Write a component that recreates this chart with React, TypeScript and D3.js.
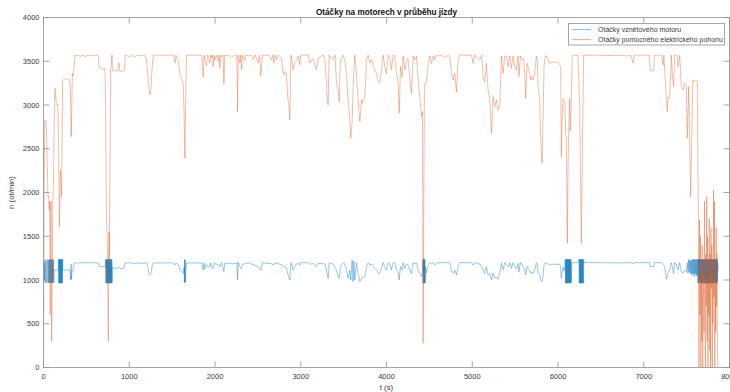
import React from 'react';
import * as d3 from 'd3';

// Time axis (s) and speed axis (ot/min) ticks
const xTicks = [0, 1000, 2000, 3000, 4000, 5000, 6000, 7000, 8000];
const yTicks = [0, 500, 1000, 1500, 2000, 2500, 3000, 3500, 4000];

const titleText = 'Otáčky na motorech v průběhu jízdy';
const xLabel = 't (s)';
const yLabel = 'n (ot/min)';
const seriesNames = ['Otáčky vznětového motoru', 'Otáčky pomocného elektrického pohonu'];

// Diesel engine speed: [t (s), n (ot/min)]
const dieselRpm: [number, number][] = [
  [0, 980], [5, 1230], [10, 1000], [15, 1200], [20, 965], [26, 1230], [32, 1150], [38, 970], [44, 1235],
  [50, 1100], [55, 965], [60, 1230], [64, 970], [68, 1235], [72, 965], [76, 1230], [80, 970], [84, 1235],
  [88, 965], [92, 1232], [96, 968], [100, 1235], [104, 965], [108, 1230], [112, 970], [116, 1235], [120, 968],
  [125, 1114], [135, 1114], [145, 1120], [155, 1110], [165, 1114], [172, 1114],
  [175, 1235], [178, 965], [181, 1235], [184, 962], [187, 1237], [190, 965], [193, 1235], [196, 962],
  [199, 1237], [202, 965], [205, 1235], [208, 962], [211, 1237], [214, 965], [217, 1235], [220, 962],
  [223, 1237], [226, 1114], [240, 1110], [260, 1114], [290, 1114], [305, 1120], [312, 1050], [318, 1000],
  [322, 1180], [326, 1010], [332, 1100], [340, 1114], [350, 1150], [360, 1195], [400, 1195], [450, 1198],
  [500, 1195], [550, 1198], [600, 1195], [640, 1195], [648, 1152], [700, 1152], [718, 1150],
  [722, 1150], [725, 1235], [728, 965], [731, 1237], [734, 962], [737, 1235], [740, 968], [743, 1237],
  [746, 962], [749, 1233], [752, 965], [755, 1237], [758, 962], [761, 1235], [764, 966], [767, 1237],
  [770, 962], [773, 1235], [776, 965], [779, 1237], [782, 963], [785, 1235], [788, 967], [791, 1237],
  [794, 962], [797, 1232], [800, 970], [803, 1152],
  [815, 1140], [830, 1133], [860, 1135], [880, 1150], [900, 1133], [940, 1133], [950, 1195], [1000, 1198],
  [1050, 1190], [1100, 1195], [1150, 1190], [1203, 1195], [1215, 1150], [1228, 1080], [1241, 1057],
  [1255, 1080], [1265, 1150], [1280, 1195], [1513, 1195], [1525, 1180], [1533, 1170], [1545, 1195],
  [1575, 1175], [1591, 1114], [1610, 1100], [1630, 1076], [1640, 1150], [1643, 969], [1646, 1235],
  [1649, 969], [1652, 1230], [1655, 980], [1660, 1100], [1669, 1195], [1844, 1195], [1863, 1114],
  [1872, 1195], [1882, 1130], [1902, 1175], [1921, 1150], [1941, 1160], [1950, 1195], [1960, 1140],
  [1979, 1130], [1990, 1190], [2038, 1175], [2057, 1150], [2077, 1198], [2104, 1095], [2113, 1195],
  [2200, 1185], [2255, 1190], [2263, 1000], [2270, 1205], [2290, 1150], [2310, 1130], [2320, 1180],
  [2348, 1185], [2387, 1198], [2446, 1175], [2504, 1150], [2535, 1114], [2554, 1198], [2660, 1185],
  [2687, 1175], [2700, 1198], [2776, 1175], [2803, 1152], [2834, 1133], [2846, 1076], [2873, 1000],
  [2885, 1198], [2912, 1114], [2931, 1160], [2951, 1183], [2970, 1198], [2989, 1170], [3000, 1198],
  [3087, 1198], [3106, 1183], [3125, 1183], [3145, 1190], [3164, 1170], [3184, 1152], [3203, 1190],
  [3281, 1183], [3300, 1114], [3320, 1019], [3331, 1198], [3378, 1183], [3417, 1114], [3436, 1038],
  [3448, 1019], [3463, 1152], [3494, 1198], [3514, 1183], [3533, 1114], [3553, 1019], [3572, 1114],
  [3584, 1000], [3599, 1230], [3610, 981], [3619, 1215], [3630, 1000], [3650, 1198], [3669, 1076],
  [3689, 981], [3708, 1019], [3728, 1030], [3747, 1038], [3766, 1152], [3786, 1198], [3805, 1170],
  [3825, 1183], [3844, 1152], [3864, 1133], [3883, 1114], [3902, 1076], [3922, 1076], [3941, 1133],
  [3961, 1198], [3980, 1152], [4000, 1114], [4019, 1198], [4038, 1183], [4058, 1114], [4077, 1198],
  [4097, 1198], [4116, 1114], [4136, 1095], [4148, 1000], [4163, 1152], [4182, 1114], [4194, 1198],
  [4214, 1133], [4233, 1183], [4250, 1170], [4272, 1114], [4291, 1076], [4311, 1198], [4330, 1183],
  [4350, 1198], [4369, 1114], [4388, 1076], [4408, 1038], [4419, 1076],
  [4424, 1237], [4427, 962], [4430, 1235], [4433, 965], [4436, 1237], [4439, 962], [4442, 1235],
  [4445, 966], [4448, 1237], [4451, 963], [4455, 1150], [4466, 1076], [4486, 1170], [4505, 1198],
  [4524, 1183], [4544, 1198], [4563, 1170], [4583, 1190], [4602, 1198], [4738, 1198], [4757, 1114],
  [4777, 1076], [4796, 1114], [4816, 1057], [4835, 1152], [4855, 1198], [4991, 1198], [5010, 1170],
  [5029, 1198], [5088, 1183], [5127, 1114], [5146, 1076], [5165, 1152], [5185, 1057], [5204, 1076],
  [5224, 1000], [5243, 1076], [5263, 1019], [5282, 1038], [5301, 1008], [5321, 1076], [5340, 1198],
  [5360, 1114], [5379, 1198], [5418, 1152], [5437, 1198], [5457, 1133], [5476, 1198], [5495, 1152],
  [5514, 1133], [5534, 1190], [5545, 1095], [5561, 1198], [5580, 1183], [5612, 1114], [5623, 1057],
  [5639, 1152], [5650, 1133], [5670, 1114], [5681, 1076], [5689, 1095], [5709, 1076], [5728, 1114],
  [5748, 1198], [5759, 1183], [5767, 1076], [5786, 1057], [5798, 1000], [5814, 981], [5825, 1038],
  [5837, 1170], [5852, 1198], [5884, 1183], [5903, 1170], [5920, 1180], [6020, 1180], [6031, 1152],
  [6039, 1019], [6050, 1114], [6060, 1152], [6070, 1100], [6080, 1150],
  [6085, 1237], [6088, 962], [6091, 1235], [6094, 965], [6097, 1237], [6100, 962], [6103, 1235],
  [6106, 967], [6109, 1237], [6112, 962], [6115, 1235], [6118, 965], [6121, 1237], [6124, 963],
  [6127, 1235], [6130, 966], [6133, 1237], [6136, 962], [6139, 1235], [6142, 965], [6145, 1237],
  [6148, 963], [6151, 1235], [6155, 970], [6160, 1198], [6233, 1198],
  [6245, 1237], [6248, 962], [6251, 1235], [6254, 965], [6257, 1237], [6260, 962], [6263, 1235],
  [6266, 966], [6269, 1237], [6272, 962], [6275, 1235], [6278, 965], [6281, 1237], [6284, 963],
  [6287, 1235], [6290, 967], [6293, 1237], [6296, 962], [6299, 1230], [6305, 1198],
  [6500, 1198], [6700, 1195], [6860, 1198], [6875, 1183], [6890, 1198], [7069, 1198], [7077, 1152],
  [7116, 1152], [7127, 1198], [7205, 1198], [7225, 1183], [7244, 1152], [7255, 1076], [7263, 1008],
  [7275, 1038], [7283, 1076], [7302, 1114], [7322, 1198], [7333, 1152], [7349, 1076], [7360, 1198],
  [7380, 1183], [7399, 1114], [7419, 1198], [7438, 1095], [7458, 1076], [7477, 1114], [7496, 1095],
  [7508, 1198], [7516, 1076], [7524, 1236], [7530, 1095], [7535, 1225], [7541, 1076], [7547, 1220],
  [7553, 1060], [7559, 1236], [7564, 1080], [7569, 1230], [7574, 1050], [7580, 1236], [7585, 1070],
  [7590, 1236], [7595, 1040], [7600, 1236], [7605, 1076], [7610, 1236], [7615, 1050], [7620, 1236],
  [7625, 1060], [7630, 1236],
  [7632, 965], [7635, 1237], [7638, 962], [7641, 1235], [7644, 970], [7647, 1237], [7650, 1000],
  [7653, 1236], [7656, 962], [7659, 1234], [7662, 966], [7665, 1237], [7668, 963], [7671, 1230],
  [7674, 980], [7677, 1237], [7680, 962], [7683, 1235], [7686, 968], [7689, 1237], [7692, 1040],
  [7695, 1236], [7698, 962], [7701, 1235], [7704, 965], [7707, 1237], [7710, 963], [7713, 1233],
  [7716, 970], [7719, 1237], [7722, 962], [7725, 1235], [7728, 1010], [7731, 1237], [7734, 962],
  [7737, 1236], [7740, 966], [7743, 1237], [7746, 963], [7749, 1232], [7752, 968], [7755, 1237],
  [7758, 962], [7761, 1235], [7764, 975], [7767, 1237], [7770, 962], [7773, 1236], [7776, 965],
  [7779, 1237], [7782, 1050], [7785, 1235], [7788, 962], [7791, 1237], [7794, 966], [7797, 1234],
  [7800, 963], [7803, 1237], [7806, 970], [7809, 1235], [7812, 962], [7815, 1237], [7818, 965],
  [7821, 1236], [7824, 990], [7827, 1237], [7830, 962], [7833, 1235], [7836, 967], [7839, 1237],
  [7842, 963], [7845, 1234], [7848, 968], [7851, 1237], [7854, 962], [7857, 1235], [7860, 970],
  [7863, 1200], [7866, 1100],
];

// Auxiliary electric drive speed: [t (s), n (ot/min)]
const electricRpm: [number, number][] = [
  [0, 0], [8, 2100], [15, 2810], [25, 2830], [35, 2700], [45, 2300], [52, 1950], [60, 1960], [66, 1800],
  [72, 1900], [78, 600], [84, 1850], [90, 1900], [95, 295], [102, 1100], [108, 1850], [115, 2067],
  [125, 2800], [134, 3190], [142, 3100], [150, 3020], [160, 3000], [168, 3010], [176, 2500], [185, 1610],
  [192, 2000], [198, 2257], [204, 2150], [210, 1952], [217, 2600], [223, 3280], [235, 3290], [250, 3300],
  [270, 3290], [290, 3300], [305, 3280], [312, 3200], [318, 2900], [324, 2638], [330, 3000], [336, 3360],
  [345, 3330], [352, 3400], [360, 3450], [367, 3570], [380, 3560], [400, 3570], [430, 3555], [460, 3570],
  [490, 3550], [520, 3570], [560, 3560], [600, 3570], [625, 3565], [640, 3560], [648, 3430], [660, 3419],
  [680, 3420], [700, 3400], [712, 3420], [720, 3300], [728, 2500], [735, 1700], [742, 1500], [748, 1200],
  [752, 600], [756, 295], [760, 1000], [764, 1550], [768, 1200], [772, 1800], [778, 2500], [783, 3400],
  [790, 3450], [798, 3570], [804, 3440], [810, 3390], [830, 3390], [850, 3400], [865, 3390], [875, 3460],
  [882, 3480], [890, 3390], [910, 3385], [930, 3390], [945, 3400], [952, 3570], [980, 3560], [1000, 3550],
  [1030, 3570], [1060, 3545], [1090, 3570], [1120, 3560], [1150, 3570], [1190, 3560], [1203, 3500],
  [1215, 3350], [1228, 3200], [1241, 3114], [1255, 3200], [1265, 3400], [1280, 3570], [1400, 3570],
  [1513, 3570], [1525, 3520], [1533, 3480], [1545, 3570], [1560, 3530], [1575, 3500], [1591, 3350],
  [1610, 3300], [1630, 3230], [1640, 2900], [1649, 2390], [1660, 3200], [1669, 3570], [1844, 3570],
  [1863, 3320], [1872, 3570], [1882, 3510], [1902, 3450], [1912, 3570], [1921, 3560], [1941, 3480],
  [1950, 3570], [1960, 3540], [1970, 3570], [1979, 3440], [1990, 3570], [1999, 3510], [2020, 3570],
  [2038, 3500], [2048, 3570], [2057, 3420], [2067, 3570], [2077, 3550], [2095, 3570], [2104, 3240],
  [2113, 3570], [2123, 3560], [2160, 3570], [2193, 3540], [2230, 3570], [2255, 3560], [2263, 2924],
  [2270, 3570], [2279, 3540], [2290, 3480], [2300, 3570], [2310, 3400], [2320, 3570], [2348, 3510],
  [2360, 3570], [2387, 3560], [2420, 3570], [2446, 3520], [2470, 3570], [2504, 3480], [2520, 3570],
  [2535, 3330], [2554, 3570], [2620, 3570], [2660, 3510], [2675, 3570], [2687, 3480], [2700, 3570],
  [2717, 3520], [2740, 3570], [2776, 3540], [2790, 3400], [2803, 3345], [2820, 3380], [2834, 3360],
  [2846, 3110], [2860, 3000], [2873, 2829], [2885, 3570], [2900, 3500], [2912, 3400], [2931, 3480],
  [2951, 3515], [2970, 3560], [2989, 3460], [3000, 3570], [3087, 3570], [3106, 3480], [3125, 3515],
  [3145, 3530], [3164, 3460], [3184, 3400], [3203, 3530], [3242, 3560], [3260, 3570], [3281, 3515],
  [3300, 3250], [3310, 3050], [3320, 3000], [3331, 3570], [3350, 3540], [3378, 3520], [3400, 3570],
  [3417, 3250], [3436, 3160], [3448, 3040], [3463, 3510], [3494, 3570], [3514, 3510], [3533, 3360],
  [3553, 3060], [3572, 2829], [3584, 2619], [3599, 2790], [3610, 3200], [3619, 3380], [3630, 3570],
  [3650, 3360], [3669, 3060], [3689, 2810], [3708, 3057], [3718, 3020], [3728, 3060], [3747, 3080],
  [3766, 3510], [3786, 3570], [3805, 3480], [3825, 3520], [3844, 3460], [3864, 3400], [3883, 3360],
  [3902, 3270], [3922, 3250], [3941, 3400], [3961, 3570], [3980, 3440], [4000, 3360], [4019, 3570],
  [4038, 3550], [4058, 3400], [4077, 3570], [4097, 3560], [4116, 3370], [4136, 3250], [4148, 2905],
  [4163, 3440], [4182, 3320], [4194, 3560], [4214, 3400], [4233, 3514], [4250, 3530], [4272, 3320],
  [4291, 3133], [4311, 3560], [4330, 3514], [4350, 3560], [4369, 3290], [4388, 3095], [4408, 2870],
  [4419, 2925], [4424, 1500], [4427, 277], [4432, 1200], [4437, 2400], [4443, 3240], [4466, 3250],
  [4486, 3476], [4505, 3560], [4524, 3476], [4544, 3560], [4563, 3514], [4583, 3570], [4602, 3560],
  [4640, 3570], [4680, 3540], [4720, 3570], [4738, 3560], [4757, 3362], [4777, 3286], [4796, 3362],
  [4816, 3150], [4835, 3514], [4855, 3570], [4991, 3570], [5010, 3476], [5029, 3570], [5088, 3514],
  [5110, 3570], [5127, 3324], [5146, 3267], [5165, 3476], [5185, 3172], [5204, 3076], [5224, 2676],
  [5243, 3095], [5263, 2981], [5282, 3057], [5301, 2943], [5321, 2981], [5340, 3560], [5360, 3362],
  [5379, 3560], [5400, 3560], [5418, 3438], [5437, 3560], [5457, 3419], [5476, 3560], [5495, 3438],
  [5514, 3400], [5534, 3560], [5545, 3324], [5561, 3560], [5580, 3514], [5600, 3530], [5612, 3362],
  [5623, 3076], [5639, 3476], [5650, 3438], [5670, 3362], [5681, 3286], [5689, 3324], [5709, 3286],
  [5728, 3362], [5748, 3560], [5759, 3514], [5767, 3210], [5786, 3057], [5798, 2600], [5814, 2334],
  [5825, 2791], [5837, 3438], [5852, 3560], [5870, 3560], [5884, 3514], [5903, 3476], [5920, 3490],
  [5960, 3490], [6000, 3490], [6031, 3438], [6039, 2410], [6050, 2900], [6058, 3076], [6078, 3057],
  [6090, 2700], [6097, 2600], [6109, 1420], [6117, 2300], [6124, 2676], [6136, 3076], [6142, 2700],
  [6148, 2791], [6155, 3076], [6167, 3570], [6233, 3570], [6253, 2981], [6262, 2200], [6272, 1420],
  [6284, 2410], [6299, 3570], [6400, 3570], [6500, 3570], [6600, 3565], [6700, 3570], [6800, 3560],
  [6850, 3570], [6875, 3480], [6890, 3570], [7060, 3570], [7077, 3400], [7100, 3390], [7116, 3390],
  [7127, 3570], [7205, 3570], [7225, 3457], [7235, 3570], [7244, 3400], [7263, 3076], [7275, 2924],
  [7283, 3095], [7302, 3076], [7322, 3570], [7333, 3362], [7349, 3210], [7360, 3570], [7390, 3570],
  [7399, 3438], [7419, 3570], [7438, 3210], [7458, 3172], [7477, 3248], [7496, 3229], [7508, 2620],
  [7524, 3210], [7535, 2600], [7547, 1952], [7559, 2600], [7574, 3286], [7594, 3267], [7613, 3286],
  [7625, 3267], [7632, 2219], [7638, 1700], [7644, 0], [7650, 1686], [7656, 600], [7661, 1500],
  [7666, 0], [7672, 1200], [7677, 300], [7682, 1400], [7688, 0], [7693, 900], [7698, 1100], [7703, 400],
  [7708, 1900], [7713, 800], [7718, 0], [7724, 1300], [7729, 700], [7734, 1952], [7739, 300],
  [7744, 1500], [7749, 0], [7754, 1100], [7759, 600], [7764, 1700], [7769, 200], [7774, 1300],
  [7779, 0], [7784, 1600], [7789, 900], [7794, 1400], [7799, 0], [7804, 1200], [7809, 500],
  [7814, 2029], [7819, 800], [7824, 1900], [7829, 0], [7834, 1000], [7839, 400], [7844, 1600],
  [7849, 700], [7854, 1300], [7859, 200], [7866, 0],
];

const W = 730;
const H = 392;
const plot = { left: 43.5, right: 729.5, top: 17.5, bottom: 367.5 };
const FONT = '"Liberation Sans", Arial, Helvetica, sans-serif';
const BLUE = '#0072BD';
const ORANGE = '#D95319';
const AXIS = '#8f8f8f';
const TEXT = '#3a3a3a';
const TICK_LEN = 6;

export default function App() {
  const x = d3.scaleLinear().domain([0, 8000]).range([plot.left, plot.right]);
  const y = d3.scaleLinear().domain([0, 4000]).range([plot.bottom, plot.top]);
  const line = d3
    .line<[number, number]>()
    .x((d) => x(d[0]))
    .y((d) => y(d[1]));

  return (
    <svg
      width={W}
      height={H}
      viewBox={`0 0 ${W} ${H}`}
      style={{ position: 'absolute', left: 0, top: 0, background: '#fff' }}
      fontFamily={FONT}
    >
      <rect x={0} y={0} width={W} height={H} fill="#fff" />
      <defs>
        <clipPath id="plotClip">
          <rect x={plot.left} y={plot.top} width={plot.right - plot.left} height={plot.bottom - plot.top} />
        </clipPath>
      </defs>

      <g clipPath="url(#plotClip)">
        <path
          d={line(dieselRpm) ?? ''}
          fill="none"
          stroke={BLUE}
          strokeWidth={0.45}
          strokeOpacity={0.9}
          strokeLinejoin="round"
        />
        <path
          d={line(electricRpm) ?? ''}
          fill="none"
          stroke={ORANGE}
          strokeWidth={0.45}
          strokeOpacity={0.85}
          strokeLinejoin="round"
        />
      </g>

      {/* axes box */}
      <rect
        x={plot.left}
        y={plot.top}
        width={plot.right - plot.left}
        height={plot.bottom - plot.top}
        fill="none"
        stroke={AXIS}
        strokeWidth={0.8}
      />

      {/* x ticks (bottom and top, inward) */}
      {xTicks.map((t) => (
        <g key={`xt${t}`}>
          <line x1={x(t)} x2={x(t)} y1={plot.bottom} y2={plot.bottom - TICK_LEN} stroke={AXIS} strokeWidth={0.8} />
          <line x1={x(t)} x2={x(t)} y1={plot.top} y2={plot.top + TICK_LEN} stroke={AXIS} strokeWidth={0.8} />
          <text x={x(t)} y={379} textAnchor="middle" fontSize={7.5} fill={TEXT}>
            {t}
          </text>
        </g>
      ))}

      {/* y ticks (left and right, inward) */}
      {yTicks.map((v) => (
        <g key={`yt${v}`}>
          <line x1={plot.left} x2={plot.left + TICK_LEN} y1={y(v)} y2={y(v)} stroke={AXIS} strokeWidth={0.8} />
          <line x1={plot.right} x2={plot.right - TICK_LEN} y1={y(v)} y2={y(v)} stroke={AXIS} strokeWidth={0.8} />
          <text x={39.5} y={y(v) + 2.7} textAnchor="end" fontSize={7.5} fill={TEXT}>
            {v}
          </text>
        </g>
      ))}

      {/* title and axis labels */}
      <text x={(plot.left + plot.right) / 2} y={15} textAnchor="middle" fontSize={8.2} fontWeight="bold" fill="#111">
        {titleText}
      </text>
      <text x={(plot.left + plot.right) / 2} y={390} textAnchor="middle" fontSize={7.8} fill={TEXT}>
        {xLabel}
      </text>
      <text
        transform={`translate(14, ${(plot.top + plot.bottom) / 2}) rotate(-90)`}
        textAnchor="middle"
        fontSize={7.8}
        fill={TEXT}
      >
        {yLabel}
      </text>

      {/* legend */}
      <g>
        <rect x={568.5} y={23.5} width={156} height={21.5} fill="#fff" stroke={AXIS} strokeWidth={0.8} />
        {[BLUE, ORANGE].map((c, i) => (
          <g key={`lg${i}`}>
            <line x1={572} x2={591} y1={29.6 + i * 10} y2={29.6 + i * 10} stroke={c} strokeWidth={0.5} />
            <text x={598} y={32.2 + i * 10} fontSize={7} fill={TEXT}>
              {seriesNames[i]}
            </text>
          </g>
        ))}
      </g>
    </svg>
  );
}
